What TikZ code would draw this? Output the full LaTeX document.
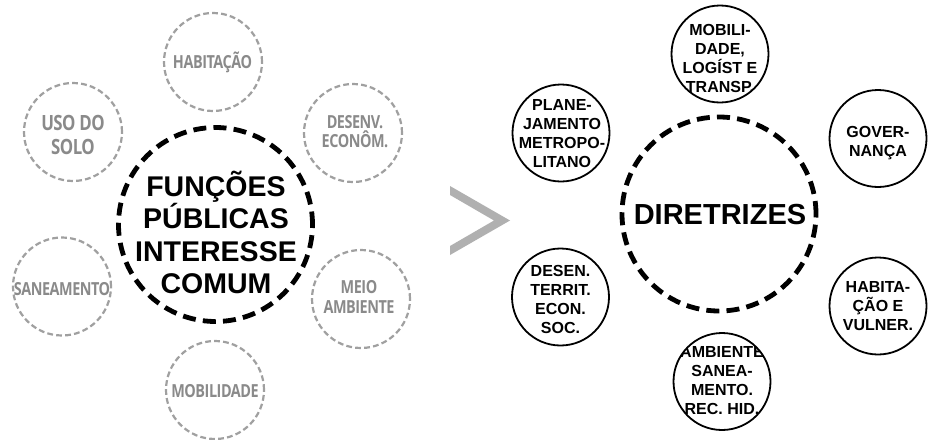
\documentclass[tikz,border=0pt]{standalone}
\usepackage{fontspec}
\setmainfont{Liberation Sans}
\newfontfamily\grayfont[FakeStretch=0.80,LetterSpace=-2.5,BoldFont={Open Sans Bold}]{Open Sans}
\usetikzlibrary{calc}
\definecolor{gcirc}{HTML}{A0A0A0}
\definecolor{gtext}{HTML}{8A8A8A}
\definecolor{garrow}{HTML}{B0B0B0}
\tikzset{
  bigc/.style={circle, draw=black, line width=4.8pt, dash pattern=on 13pt off 7.2pt, minimum size=194pt, inner sep=0pt},
  grayc/.style={circle, draw=gcirc, line width=2.2pt, dash pattern=on 5.8pt off 3.2pt, minimum size=98pt, inner sep=0pt},
  graytext/.style={text=gtext, font=\grayfont\bfseries\fontsize{18}{19}\selectfont, align=center, inner sep=0pt},
  smallc/.style={circle, draw=black, line width=1.8pt, minimum size=97pt, inner sep=0pt},
  rtext/.style={font=\bfseries\fontsize{16}{19}\selectfont, align=center, inner sep=0pt},
  bigtext/.style={font=\bfseries\fontsize{28.5}{32.5}\selectfont, align=center, inner sep=0pt},
}
\begin{document}
\begin{tikzpicture}[x=1pt,y=-1pt]
\useasboundingbox (0,0) rectangle (928,439);
\fill[white] (0,0) rectangle (928,439);
% ---------- left: gray dashed circles ----------
\node[grayc] (hab) at (213,62) {};
\node[grayc] (uso) at (73,132) {};
\node[grayc] (des) at (353,133) {};
\node[grayc] (san) at (62,286.5) {};
\node[grayc] (meio) at (361,299) {};
\node[grayc] (mob) at (215,390) {};
\node[graytext, anchor=base] (habt) at (212.5,68) {HABITAÇÃO};
\node[graytext, font=\grayfont\bfseries\fontsize{21}{24}\selectfont] (usot) at (73,134.5) {USO DO\\SOLO};
\node[graytext] (dest) at (355,132) {DESENV.\\ECONÔM.};
\node[graytext, anchor=base] (sant) at (62,295) {SANEAMENTO};
\node[graytext, font=\grayfont\bfseries\fontsize{18}{20}\selectfont] (meiot) at (359,296.5) {MEIO\\AMBIENTE};
\node[graytext, anchor=base] (mobt) at (215,397) {MOBILIDADE};
% ---------- left: central circle ----------
\node[bigc] (fpic) at (215.5,224.5) {};
\node[bigtext] (fpict) at (216,232.5) {FUNÇÕES\\PÚBLICAS\\INTERESSE\\COMUM};
% ---------- arrow ----------
\fill[garrow] (450,186) -- (510,220.5) -- (450,255) -- (450,246) -- (494,220.5) -- (450,195) -- cycle;
% ---------- right: central circle ----------
\node[bigc] (dir) at (719,214) {};
\node[font=\bfseries\fontsize{29}{32}\selectfont, inner sep=0pt, anchor=base] (dirt) at (720,224) {DIRETRIZES};
% ---------- right: small circles ----------
\node[smallc, path picture={\node[rtext] at ($(path picture bounding box.center)+(0,4)$) {MOBILI-\\DADE,\\LOGÍST E\\TRANSP.};}] (mobr) at (720,54) {};
\node[smallc, path picture={\node[rtext] at ($(path picture bounding box.center)+(1,0.5)$) {PLANE-\\JAMENTO\\METROPO-\\LITANO};}] (plan) at (561,133) {};
\node[smallc, path picture={\node[rtext] at ($(path picture bounding box.center)+(0,5)$) {GOVER-\\NANÇA};}] (gov) at (878,138.5) {};
\node[smallc, path picture={\node[rtext] at ($(path picture bounding box.center)+(0,2.5)$) {DESEN.\\TERRIT.\\ECON.\\SOC.};}] (desen) at (560.5,297) {};
\node[smallc, path picture={\node[rtext] at ($(path picture bounding box.center)+(0,0)$) {HABITA-\\ÇÃO E\\VULNER.};}] (habr) at (878,306) {};
\node[smallc, path picture={\node[rtext] at ($(path picture bounding box.center)+(0,-1)$) {AMBIENTE\\SANEA-\\MENTO.\\REC. HID.};}] (amb) at (722,381.5) {};
\end{tikzpicture}
\end{document}
